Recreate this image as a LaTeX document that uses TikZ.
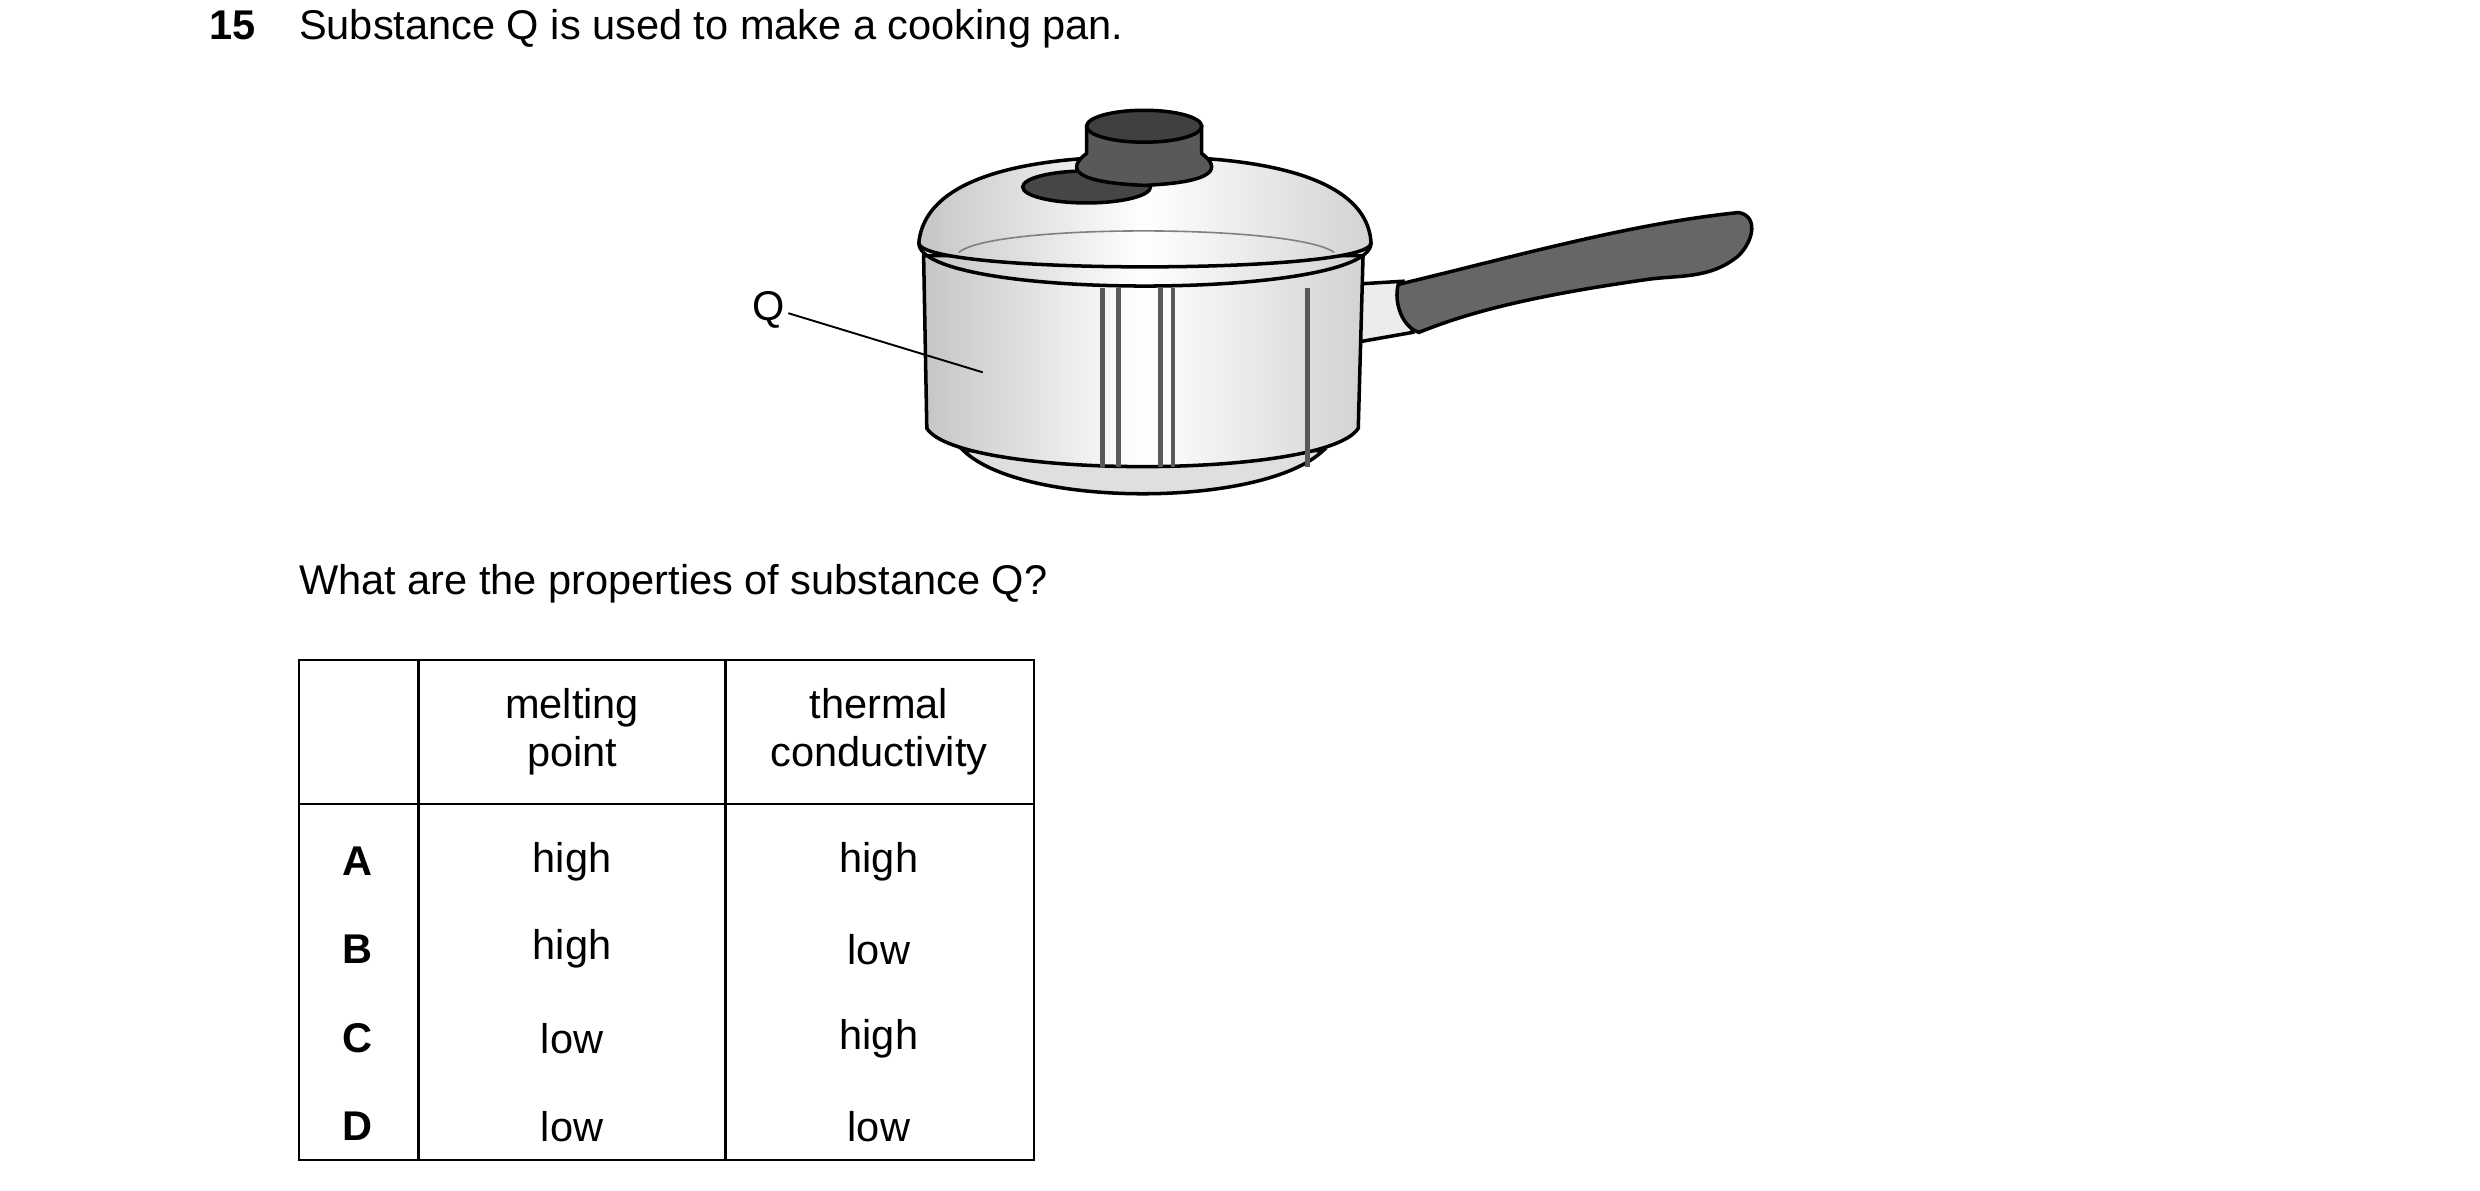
\documentclass[tikz,border=0pt]{standalone}
\usepackage{fontspec}
\setmainfont{Liberation Sans}
\begin{document}
\begin{tikzpicture}[x=1pt,y=-1pt,
  txt/.style={font=\fontsize{26}{30}\selectfont, inner sep=0pt},
  cell/.style={txt, align=center},
  lett/.style={txt, font=\fontsize{26}{30}\selectfont\bfseries},
  outl/.style={line width=2.2pt, black},
  metal/.style={left color=gray!45, right color=gray!35, middle color=white}]
\useasboundingbox (0,0) rectangle (1552,745);
\node[lett, anchor=base west] (num) at (131,25) {15};
\node[txt, anchor=base west] (q1) at (187,25) {Substance Q is used to make a cooking pan.};
% handle
\draw[outl, fill=gray!15] (845,178) -- (878,176) -- (884,208) -- (850,214) -- cycle;
\draw[outl, fill=gray!80!black] (875,178) .. controls (950,160) and (1020,140) .. (1088,133)
  .. controls (1100,135) and (1098,150) .. (1088,160)
  .. controls (1070,175) and (1050,172) .. (1030,175)
  .. controls (960,185) and (920,195) .. (888,208) .. controls (878,205) and (872,190) .. (875,178) -- cycle;
% base ring
\draw[outl, fill=gray!25] (603,282) .. controls (640,318) and (790,318) .. (828,282) -- cycle;
% body
\draw[outl, metal] (578,160) -- (580,268) .. controls (600,300) and (830,300) .. (850,268) -- (853,160) -- cycle;
\foreach \x in {690,700,726,734,818} \draw[line width=3pt, gray!70!black] (\x,180) -- (\x,292);
% lid
\draw[outl, metal] (575,152) .. controls (580,100) and (680,98) .. (716,98) .. controls (752,98) and (855,100) .. (858,152)
  .. controls (858,172) and (575,172) .. (575,152) -- cycle;
\draw[outl] (575,152) .. controls (575,188) and (858,188) .. (858,152);
\draw[gray, line width=1pt] (600,158) .. controls (620,140) and (810,140) .. (835,158);
% knob
\draw[outl, fill=gray!55!black] (680,117) ellipse (40 and 10);
\draw[outl, fill=gray!70!black] (680,79) -- (680,96) .. controls (668,105) and (670,114) .. (716,116) .. controls (762,114) and (764,105) .. (752,96) -- (752,79) -- cycle;
\draw[outl, fill=gray!50!black] (716,79) ellipse (36 and 10);
% label
\node[txt] (Q) at (481,194) {Q};
\coordinate (qe) at (615,233);
\draw[line width=1.2pt] (Q.east) ++(2,2) -- (qe);
\node[txt, anchor=base west] (qq) at (187,372) {What are the properties of substance Q?};
% table
\draw[line width=1.5pt] (187,413) rectangle (647,726);
\draw[line width=1.5pt] (262,413) -- (262,726) (454,413) -- (454,726) (187,503) -- (647,503);
\node[cell] (h1) at (358,458) {melting\\point};
\node[cell] (h2) at (550,458) {thermal\\conductivity};
\foreach \y/\l/\a/\b in {539/A/high/high,594/B/high/low,650/C/low/high,705/D/low/low}{
  \node[lett] (l\l) at (224,\y) {\l};
  \node[txt] (m\l) at (358,\y) {\a};
  \node[txt] (t\l) at (550,\y) {\b};
}
\end{tikzpicture}
\end{document}
